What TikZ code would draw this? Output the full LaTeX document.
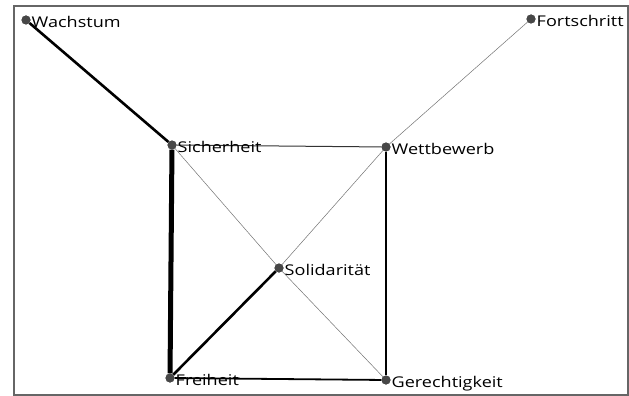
\documentclass[tikz,border=0pt]{standalone}
\usepackage{fontspec}
\setmainfont[FakeStretch=1.22]{Open Sans}
\usetikzlibrary{positioning}

\begin{document}
\begin{tikzpicture}[x=1pt, y=-1pt,
    dot/.style={circle, fill=black!72, inner sep=0pt, minimum size=9pt},
    lbl/.style={font=\fontsize{14.8}{16}\selectfont, inner sep=0pt, text height=10.5pt, text depth=0pt, yshift=-2pt},
    weak/.style={line width=0.5pt, draw=black!55},
    mid/.style={line width=1pt, draw=black!80},
    strong/.style={line width=1.8pt, draw=black},
    heavy/.style={line width=2.6pt, draw=black},
    huge/.style={line width=5pt, draw=black}
]
\useasboundingbox (0,0) rectangle (629,396);
\draw[black!60, line width=1.4pt] (14,6) rectangle (628,395);

% concepts
\node[dot] (wachstum) at (26,20) {};
\node[dot] (fortschritt) at (531,19) {};
\node[dot] (sicherheit) at (172,145) {};
\node[dot] (wettbewerb) at (386,147) {};
\node[dot] (solidaritaet) at (279,268) {};
\node[dot] (freiheit) at (170,378) {};
\node[dot] (gerechtigkeit) at (386,380) {};

% links
\draw[heavy] (wachstum) -- (sicherheit);
\draw[huge] (sicherheit) -- (freiheit);
\draw[mid] (sicherheit) -- (wettbewerb);
\draw[weak] (sicherheit) -- (solidaritaet);
\draw[weak] (solidaritaet) -- (gerechtigkeit);
\draw[weak] (fortschritt) -- (wettbewerb);
\draw[weak] (wettbewerb) -- (solidaritaet);
\draw[heavy] (solidaritaet) -- (freiheit);
\draw[strong] (wettbewerb) -- (gerechtigkeit);
\draw[strong] (freiheit) -- (gerechtigkeit);

% redraw dots on top
\foreach \n in {wachstum,fortschritt,sicherheit,wettbewerb,solidaritaet,freiheit,gerechtigkeit}
  \fill[black!72] (\n) circle (4.5pt);

\node[lbl, right=5.5pt of wachstum.center] (lwachstum) {Wachstum};
\node[lbl, right=5.5pt of fortschritt.center] (lfortschritt) {Fortschritt};
\node[lbl, right=5.5pt of sicherheit.center] (lsicherheit) {Sicherheit};
\node[lbl, right=5.5pt of wettbewerb.center] (lwettbewerb) {Wettbewerb};
\node[lbl, right=5.5pt of solidaritaet.center] (lsolidaritaet) {Solidarität};
\node[lbl, right=5.5pt of freiheit.center] (lfreiheit) {Freiheit};
\node[lbl, right=5.5pt of gerechtigkeit.center] (lgerechtigkeit) {Gerechtigkeit};
\end{tikzpicture}
\end{document}
